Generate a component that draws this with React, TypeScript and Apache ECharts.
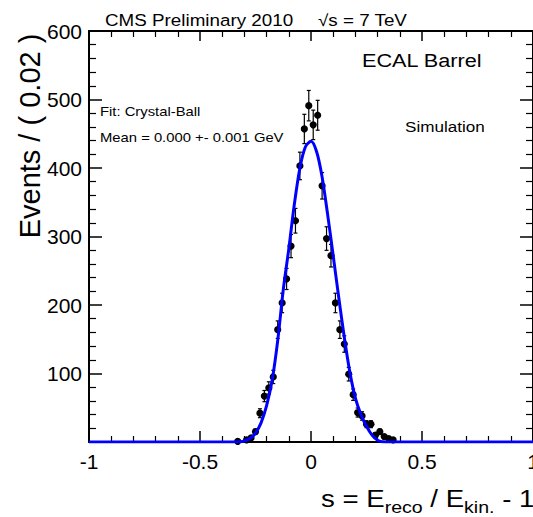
import React, { useEffect, useRef } from 'react';
import * as echarts from 'echarts';

// Histogram bins (width 0.02): bin centres, counts and their (Poisson) errors
const binCenters = [-0.33, -0.29, -0.27, -0.25, -0.23, -0.21, -0.19, -0.17, -0.15, -0.13, -0.11, -0.09, -0.07, -0.05, -0.03, -0.01, 0.01, 0.03, 0.05, 0.07, 0.09, 0.11, 0.13, 0.15, 0.17, 0.19, 0.21, 0.23, 0.25, 0.27, 0.29, 0.31, 0.33, 0.35, 0.37];
const eventCounts = [1, 3, 6, 15, 42, 67, 79, 95, 164, 203, 238, 286, 323, 403, 457, 491, 463, 477, 374, 297, 272, 203, 164, 143, 99, 69, 43, 38, 26, 26, 10, 15, 8, 5, 3];
const countErrors = [1, 1.7, 2.4, 3.9, 6.5, 8.2, 8.9, 9.7, 12.8, 14.2, 15.4, 16.9, 18, 20.1, 21.4, 22.2, 21.5, 21.8, 19.3, 17.2, 16.5, 14.2, 12.8, 12, 9.9, 8.3, 6.6, 6.2, 5.1, 5.1, 3.2, 3.9, 2.8, 2.2, 1.7];

// Crystal-Ball fit curve
const fitX = [-1, -0.36, -0.32, -0.3, -0.275, -0.25, -0.225, -0.2, -0.175, -0.15, -0.125, -0.1, -0.075, -0.05, -0.025, 0, 0.025, 0.05, 0.075, 0.1, 0.125, 0.15, 0.175, 0.2, 0.225, 0.25, 0.275, 0.3, 0.32, 0.36, 1];
const fitY = [0, 0, 0.3, 1.5, 5, 13, 28, 53, 90, 148, 222, 282, 347, 400, 431, 439, 424, 387, 332, 272, 211, 153, 102, 64, 40, 23, 10, 2.5, 0.5, 0, 0];

// Axis ticks
const xTickLabels = ['-1', '-0.5', '0', '0.5', '1'];
const yTickLabels = ['100', '200', '300', '400', '500', '600'];

const FONT = '"Liberation Sans", Arial, Helvetica, sans-serif';

export default function App() {
  const ref = useRef<HTMLDivElement>(null);
  useEffect(() => {
    if (!ref.current) return;
    const chart = echarts.init(ref.current, undefined, { renderer: 'svg' });
    const points = binCenters.map((c, i) => [c, eventCounts[i], countErrors[i]]);
    const curve = fitX.map((x, i) => [x, fitY[i]]);
    const axisBase = {
      type: 'value',
      splitLine: { show: false },
      axisLine: { show: true, onZero: false, lineStyle: { color: '#000', width: 2 } },
    };
    const option: any = {
      animation: false,
      backgroundColor: '#fff',
      grid: { left: 89, right: 0, top: 31, bottom: 75, outerBoundsMode: 'none', containLabel: false },
      xAxis: [
        {
          ...axisBase,
          min: -1, max: 1, interval: 0.5, position: 'bottom',
          axisTick: { show: true, inside: true, length: 11, lineStyle: { color: '#000', width: 1.5 } },
          minorTick: { show: true, splitNumber: 5, length: 6, lineStyle: { color: '#000', width: 1.2 } },
          axisLabel: {
            color: '#000', fontSize: 21, fontFamily: FONT, margin: 9, showMaxLabel: true, showMinLabel: true,
            formatter: (v: number) => {
              const idx = Math.round((v + 1) / 0.5);
              return xTickLabels[idx] ?? '';
            },
          },
        },
        {
          ...axisBase,
          min: -1, max: 1, interval: 0.5, position: 'top',
          axisTick: { show: true, inside: true, length: 10, lineStyle: { color: '#000', width: 1.5 } },
          minorTick: { show: true, splitNumber: 5, length: 6, lineStyle: { color: '#000', width: 1.2 } },
          axisLabel: { show: false },
        },
      ],
      yAxis: [
        {
          ...axisBase,
          min: 0, max: 600, interval: 100, position: 'left',
          axisTick: { show: true, inside: true, length: 13, lineStyle: { color: '#000', width: 1.5 } },
          minorTick: { show: true, splitNumber: 5, length: 7, lineStyle: { color: '#000', width: 1.2 } },
          axisLabel: {
            color: '#000', fontSize: 21, fontFamily: FONT, margin: 7,
            formatter: (v: number) => {
              const idx = Math.round(v / 100) - 1;
              return idx >= 0 ? yTickLabels[idx] : '';
            },
          },
        },
        {
          ...axisBase,
          min: 0, max: 600, interval: 100, position: 'right',
          axisTick: { show: true, inside: true, length: 13, lineStyle: { color: '#000', width: 1.5 } },
          minorTick: { show: true, splitNumber: 5, length: 7, lineStyle: { color: '#000', width: 1.2 } },
          axisLabel: { show: false },
        },
      ],
      series: [
        {
          type: 'custom',
          xAxisIndex: 0,
          yAxisIndex: 0,
          data: points,
          encode: { x: 0, y: 1 },
          z: 2,
          renderItem: (params: any, api: any) => {
            const x = api.value(0);
            const y = api.value(1);
            const e = api.value(2);
            const p = api.coord([x, y]);
            const hi = api.coord([x, y + e]);
            const lo = api.coord([x, Math.max(0, y - e)]);
            const cap = 2;
            const st = { stroke: '#000', lineWidth: 1.2 };
            return {
              type: 'group',
              children: [
                { type: 'line', shape: { x1: p[0], y1: hi[1], x2: p[0], y2: lo[1] }, style: st },
                { type: 'line', shape: { x1: p[0] - cap, y1: hi[1], x2: p[0] + cap, y2: hi[1] }, style: st },
                { type: 'line', shape: { x1: p[0] - cap, y1: lo[1], x2: p[0] + cap, y2: lo[1] }, style: st },
                { type: 'circle', shape: { cx: p[0], cy: p[1], r: 3.6 }, style: { fill: '#000' } },
              ],
            };
          },
        },
        {
          type: 'line',
          xAxisIndex: 0,
          yAxisIndex: 0,
          data: curve,
          smooth: 0.3,
          showSymbol: false,
          clip: true,
          z: 3,
          lineStyle: { color: '#0000ff', width: 3 },
        },
      ],
      graphic: [
        {
          type: 'text', x: 105, y: 20, scaleX: 1.14,
          style: { text: 'CMS Preliminary 2010', fontSize: 16.5, fontFamily: FONT, fill: '#000', verticalAlign: 'middle' },
        },
        {
          type: 'text', x: 318, y: 20, scaleX: 1.14,
          style: { text: '√s = 7 TeV', fontSize: 16.5, fontFamily: FONT, fill: '#000', verticalAlign: 'middle' },
        },
        {
          type: 'text', x: 362, y: 60, scaleX: 1.14,
          style: { text: 'ECAL Barrel', fontSize: 19, fontFamily: FONT, fill: '#000', verticalAlign: 'middle' },
        },
        {
          type: 'text', x: 100, y: 111, scaleX: 1.14,
          style: { text: 'Fit: Crystal-Ball', fontSize: 13, fontFamily: FONT, fill: '#000', verticalAlign: 'middle' },
        },
        {
          type: 'text', x: 100, y: 137, scaleX: 1.14,
          style: { text: 'Mean = 0.000 +- 0.001 GeV', fontSize: 13, fontFamily: FONT, fill: '#000', verticalAlign: 'middle' },
        },
        {
          type: 'text', x: 405, y: 126, scaleX: 1.14,
          style: { text: 'Simulation', fontSize: 15, fontFamily: FONT, fill: '#000', verticalAlign: 'middle' },
        },
        {
          type: 'text', x: 30, y: 136, rotation: Math.PI / 2,
          style: { text: 'Events / ( 0.02 )', fontSize: 29, fontFamily: FONT, fill: '#000', align: 'center', verticalAlign: 'middle' },
        },
        {
          type: 'text', x: 321, y: 499, scaleX: 1.15,
          style: {
            text: '{n|s = E}{s|reco}{n| / E}{s|kin.}{n| - 1}',
            fontFamily: FONT, fill: '#000', verticalAlign: 'middle',
            rich: {
              n: { fontSize: 24, fontFamily: FONT, fill: '#000', lineHeight: 28 },
              s: { fontSize: 17, fontFamily: FONT, fill: '#000', lineHeight: 20, padding: [16, 0, 0, 0] },
            },
          },
        },
      ],
    };
    chart.setOption(option);
    return () => chart.dispose();
  }, []);
  return (
    <div
      ref={ref}
      style={{ position: 'absolute', left: 0, top: 0, width: 533, height: 517, background: '#fff' }}
    />
  );
}
